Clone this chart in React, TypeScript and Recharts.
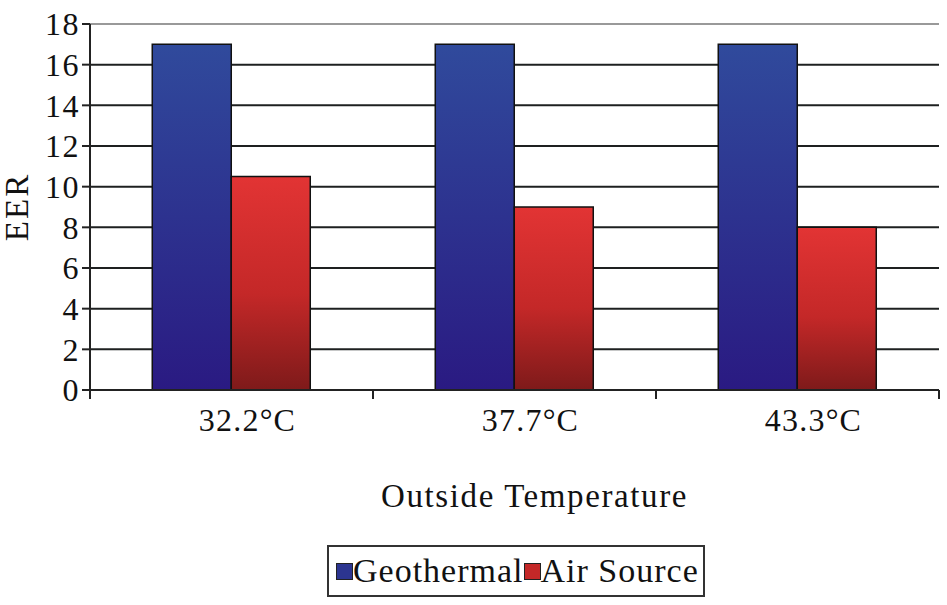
import React from "react";
import { BarChart, Bar, XAxis, YAxis, CartesianGrid, Legend, ReferenceLine } from "recharts";

const temperatures = ["32.2°C", "37.7°C", "43.3°C"];
const geothermal = [17, 17, 17];
const airSource = [10.5, 9, 8];
const yTicks = [0, 2, 4, 6, 8, 10, 12, 14, 16, 18];

const data = temperatures.map((t, i) => ({ t, geo: geothermal[i], air: airSource[i] }));

const W = 947;
const H = 605;
const M = { top: 24, right: 8, left: 0, bottom: 95 };
const Y_W = 90;
const FONT = "Liberation Serif";
const band = (W - M.left - M.right - Y_W) / temperatures.length;

function XTick(props: any) {
  const { x, y, payload, index } = props;
  const left = x - band / 2;
  return (
    <g>
      <line x1={left} y1={y - 8} x2={left} y2={y + 1} stroke="#222" strokeWidth={2} />
      {index === temperatures.length - 1 && (
        <line x1={left + band} y1={y - 8} x2={left + band} y2={y + 1} stroke="#222" strokeWidth={2} />
      )}
      <text x={x + 16} y={y + 33} textAnchor="middle" fontFamily={FONT} fontSize={32} letterSpacing={1.2} fill="#111">
        {payload.value}
      </text>
    </g>
  );
}

function XTitle(props: any) {
  const { viewBox } = props;
  const cx = viewBox.x + viewBox.width / 2 + 20;
  return (
    <text x={cx} y={507} textAnchor="middle" fontFamily={FONT} fontSize={33} letterSpacing={1.6} fill="#111">
      Outside Temperature
    </text>
  );
}

function YTitle(props: any) {
  const { viewBox } = props;
  const cy = viewBox.y + viewBox.height / 2 + 0;
  return (
    <text
      x={28}
      y={cy}
      transform={`rotate(-90 28 ${cy})`}
      textAnchor="middle"
      fontFamily={FONT}
      fontSize={33}
      letterSpacing={2}
      fill="#111"
    >
      EER
    </text>
  );
}

function LegendBox() {
  const items = [
    { name: "Geothermal", color: "#2c3590" },
    { name: "Air Source", color: "#c42828" },
  ];
  return (
    <div
      style={{
        position: "absolute",
        left: 327,
        top: 545,
        width: 374,
        height: 48,
        border: "2px solid #333",
        display: "flex",
        alignItems: "center",
        fontFamily: FONT,
        fontSize: 34,
        color: "#111",
        letterSpacing: 1,
        boxSizing: "content-box",
        whiteSpace: "nowrap",
      }}
    >
      {items.map((it) => (
        <span key={it.name} style={{ display: "flex", alignItems: "center", marginLeft: it.name === "Geothermal" ? 7 : 0 }}>
          <span style={{ width: 15, height: 15, background: it.color, border: "1px solid #222", display: "inline-block" }} />
          <span>{it.name}</span>
        </span>
      ))}
    </div>
  );
}

export default function App() {
  return (
    <div style={{ position: "absolute", left: 0, top: 0, width: W, height: H, background: "#fff" }}>
      <BarChart width={W} height={H} data={data} margin={M} barCategoryGap="22%" barGap={0}>
        <defs>
          <linearGradient id="gBlue" x1="0" y1="0" x2="0" y2="1">
            <stop offset="0%" stopColor="#304a9c" />
            <stop offset="100%" stopColor="#2a1a82" />
          </linearGradient>
          <linearGradient id="gRed" x1="0" y1="0" x2="0" y2="1">
            <stop offset="0%" stopColor="#e23434" />
            <stop offset="55%" stopColor="#c42828" />
            <stop offset="100%" stopColor="#7e1a1a" />
          </linearGradient>
        </defs>
        <CartesianGrid vertical={false} stroke="#1e2020" strokeWidth={2} />
        <XAxis
          dataKey="t"
          height={120}
          axisLine={{ stroke: "#222", strokeWidth: 2 }}
          tickLine={false}
          tick={<XTick />}
          interval={0}
          label={<XTitle />}
        />
        <YAxis
          width={Y_W}
          domain={[0, 18]}
          ticks={yTicks}
          interval={0}
          axisLine={{ stroke: "#222", strokeWidth: 2 }}
          tickLine={{ stroke: "#222", strokeWidth: 2 }}
          tickSize={8}
          tick={{ fontFamily: FONT, fontSize: 32, fill: "#111", letterSpacing: 1.5 }}
          label={<YTitle />}
        />
        <YAxis
          yAxisId="r"
          orientation="right"
          width={0}
          domain={[0, 18]}
          tick={false}
          tickLine={false}
          axisLine={{ stroke: "#999", strokeWidth: 2 }}
        />
        <ReferenceLine y={18} stroke="#999" strokeWidth={2} />
        <Bar dataKey="geo" name="Geothermal" fill="url(#gBlue)" stroke="#111" strokeWidth={1.5} isAnimationActive={false} />
        <Bar dataKey="air" name="Air Source" fill="url(#gRed)" stroke="#111" strokeWidth={1.5} isAnimationActive={false} />
        <Legend content={() => null} />
      </BarChart>
      <LegendBox />
    </div>
  );
}
